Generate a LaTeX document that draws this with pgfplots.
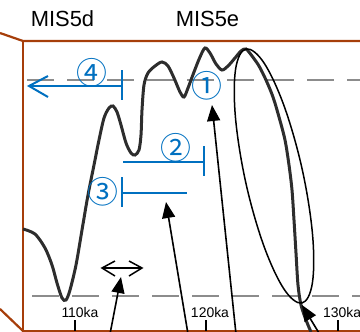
\documentclass[border=0pt]{standalone}
\usepackage{pgfplots}
\pgfplotsset{compat=1.18}
\usetikzlibrary{arrows.meta}
\usepackage{fontspec}
\setmainfont{Liberation Sans}
\newfontfamily\cjk{Noto Sans CJK JP}
\definecolor{frame}{RGB}{166,62,10}
\definecolor{myblue}{RGB}{0,112,192}
\definecolor{dgray}{RGB}{140,140,140}
\definecolor{curvec}{RGB}{45,45,45}
\begin{document}
\begin{tikzpicture}
\begin{axis}[scale only axis, width=360bp, height=332bp,
  xmin=0, xmax=360, ymin=0, ymax=332, y dir=reverse,
  hide axis, clip=false]
% dashed reference lines
\addplot[dgray, line width=2.2bp, dash pattern=on 27bp off 13bp] coordinates {(27,80) (360,80)};
\addplot[dgray, line width=2.2bp, dash pattern=on 27bp off 13bp] coordinates {(32,296) (360,296)};
% frame
\addplot[frame, line width=2.2bp, line join=miter] coordinates {(0,33) (23,41) (360,41)};
\addplot[frame, line width=2.2bp, line join=miter] coordinates {(23,41) (23,331) (360,331)};
\addplot[frame, line width=2.2bp] coordinates {(0,309) (23,331)};
% curve
\addplot[curvec, line width=3bp, smooth, tension=0.5] coordinates {
(23,229) (35,234) (45,248) (52,265) (57,283) (62,298) (66,300) (70,290) (76,265)
(82,230) (88,195) (94,165) (99,140) (104,118) (109,108) (113,106) (117,112) (121,125)
(126,143) (131,153) (135,155) (139,150) (141,135) (142,110) (144,85) (148,73) (155,66)
(162,62) (168,66) (174,78) (180,92) (184,97) (188,88) (194,72) (200,57) (205,48)
(210,53) (216,64) (222,70) (228,66) (235,58) (241,51) (246,49) (252,56) (259,66)
(266,80) (273,97) (279,117) (285,140) (289,165) (292,190) (294,220) (296,253)
(298,285) (301,305) (306,320) (311,332)};
% ellipse
\addplot[black, line width=1.5bp, smooth cycle, tension=0.6] coordinates {
(302,303) (312.4,282.9) (312.5,234.1) (302.3,169.8) (284.5,107.1) (264,62.9)
(246,49) (235.6,69.1) (235.5,117.9) (245.7,182.2) (263.5,244.9) (284,289.1)};
% blue annotations
\addplot[myblue, line width=2bp] coordinates {(122,70) (122,100)};
\addplot[myblue, line width=2bp] coordinates {(122,86) (29,86)};
\addplot[myblue, line width=2bp] coordinates {(48,76) (29,86) (48,97)};
\addplot[myblue, line width=2bp] coordinates {(123,162) (204,162)};
\addplot[myblue, line width=2bp] coordinates {(204,146) (204,176)};
\addplot[myblue, line width=2bp] coordinates {(122,177) (122,207)};
\addplot[myblue, line width=2bp] coordinates {(122,193) (187,193)};
\node[myblue, font=\cjk\fontsize{31}{31}\selectfont] at (axis cs:92,73) {④};
\node[myblue, font=\cjk\fontsize{31}{31}\selectfont] at (axis cs:207,86) {①};
\node[myblue, font=\cjk\fontsize{31}{31}\selectfont] at (axis cs:176,148) {②};
\node[myblue, font=\cjk\fontsize{31}{31}\selectfont] at (axis cs:103,192) {③};
% double arrow
\addplot[black, line width=1.5bp] coordinates {(102,268) (142,268)};
\addplot[black, line width=1.5bp] coordinates {(115,261) (102,268) (115,276)};
\addplot[black, line width=1.5bp] coordinates {(129,261) (142,268) (129,276)};
% black arrows
\addplot[black, line width=1.6bp, -{Triangle[length=16bp,width=13bp]}] coordinates {(110,334) (121,277)};
\addplot[black, line width=1.6bp, -{Triangle[length=16bp,width=13bp]}] coordinates {(188,334) (166,202)};
\addplot[black, line width=1.6bp, -{Triangle[length=16bp,width=13bp]}] coordinates {(236,334) (212,105)};
\addplot[black, line width=1.6bp, -{Triangle[length=16bp,width=13bp]}] coordinates {(322,338) (302,305)};
% ticks
\addplot[black, line width=1.5bp] coordinates {(75,320) (75,331)};
\addplot[black, line width=1.5bp] coordinates {(206,320) (206,331)};
\addplot[black, line width=1.5bp] coordinates {(338,320) (338,331)};
\node[font=\fontsize{14}{14}\selectfont] at (axis cs:80,313) {110ka};
\node[font=\fontsize{14}{14}\selectfont] at (axis cs:210,313) {120ka};
\node[font=\fontsize{14}{14}\selectfont, anchor=west, inner xsep=0pt] at (axis cs:323,313) {130ka};
% titles
\node[font=\fontsize{22}{22}\selectfont] at (axis cs:62.5,18.5) {MIS5d};
\node[font=\fontsize{22}{22}\selectfont] at (axis cs:207.5,18.5) {MIS5e};
\end{axis}
\pgfresetboundingbox
\path[use as bounding box] (0,0) rectangle (360bp,332bp);
\end{tikzpicture}
\end{document}
